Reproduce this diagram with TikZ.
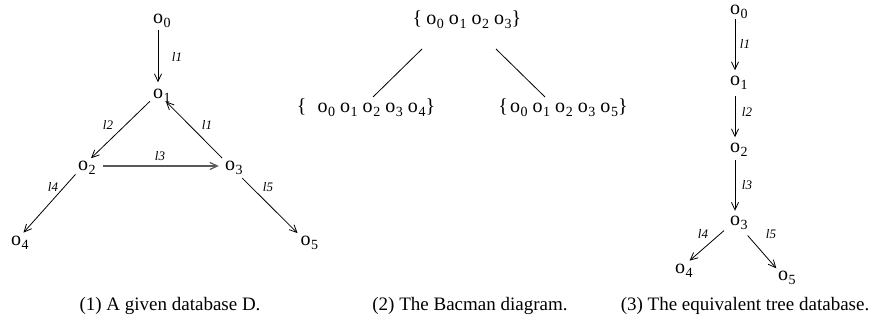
\documentclass[tikz,border=0pt]{standalone}
\usepackage{fontspec}
\setmainfont{Liberation Serif}
\usetikzlibrary{arrows.meta}
\newcommand\fsz[1]{\fontsize{#1}{#1}\selectfont}
\newcommand\osub[1]{o\rlap{\smash{\raisebox{-4pt}{\fsz{14}\hspace{0.6pt}#1}}}}
\newcommand\osw[1]{o\raisebox{-4pt}{\fsz{14}\hspace{0.6pt}#1}}
\begin{document}
\begin{tikzpicture}[x=1pt,y=-1pt,
  obj/.style={circle,inner sep=0pt,minimum size=22pt,font=\fsz{20}},
  objb/.style={obj,minimum size=20pt},
  lab/.style={font=\fsz{13}\itshape,inner sep=0pt},
  captn/.style={font=\fsz{19},anchor=base,inner sep=0pt},
  setn/.style={font=\fsz{20},inner sep=0pt},
  arr/.style={line width=0.8pt,-{Straight Barb[length=7.5pt,width=7pt]}},
  plainline/.style={line width=0.8pt}]
\useasboundingbox (0,0) rectangle (876,323);
% panel 1
\node[obj] (a0) at (158,19) {\osub{0}};
\node[obj] (a1) at (158,93.5) {\osub{1}};
\node[obj] (a2) at (83,166) {\osub{2}};
\node[obj] (a3) at (230,166) {\osub{3}};
\node[obj] (a4) at (16,241) {\osub{4}};
\node[obj] (a5) at (305.5,241) {\osub{5}};
\draw[arr] (a0) -- (a1);
\draw[arr] (a1) -- (a2);
\draw[arr] (a3) -- (a1);
\draw[arr,black!65,line width=1.2pt,shorten <=9pt] (a2) -- (a3);
\draw[arr] (a2) -- (a4);
\draw[arr,shorten <=6pt] (a3) -- (a5);
\node[lab] (la1) at (177,57) {l1};
\node[lab] (la2) at (108,125) {l2};
\node[lab] (la3) at (207,125) {l1};
\node[lab] (la4) at (160,156) {l3};
\node[lab] (la5) at (53,187) {l4};
\node[lab] (la6) at (268,187) {l5};
% panel 2
\node[setn] (T) at (467,20) {\{\hspace{4pt}\osw{0} \osw{1} \osw{2} \osw{3}\}};
\node[setn] (L) at (366,108) {\{\hspace{11pt}\osw{0} \osw{1} \osw{2} \osw{3} \osw{4}\}};
\node[setn] (R) at (563,108) {\{\hspace{2pt}\osw{0} \osw{1} \osw{2} \osw{3} \osw{5}\}};
\coordinate (t1) at (422,49);
\coordinate (b1) at (373,97);
\coordinate (t2) at (496,49);
\coordinate (b2) at (545,97);
\draw[plainline] (t1) -- (b1);
\draw[plainline] (t2) -- (b2);
% panel 3
\node[objb,minimum size=18pt] (p0) at (735,10) {\osub{0}};
\node[objb] (p1) at (735,80.5) {\osub{1}};
\node[objb] (p2) at (735,147.5) {\osub{2}};
\node[objb] (p3) at (735,221) {\osub{3}};
\node[objb] (p4) at (680,269) {\osub{4}};
\node[objb] (p5) at (783,276) {\osub{5}};
\draw[arr] (p0) -- (p1);
\draw[arr,shorten <=5pt] (p1) -- (p2);
\draw[arr,shorten <=2.5pt] (p2) -- (p3);
\draw[arr,shorten <=4.5pt,shorten >=2.5pt] (p3) -- (p4);
\draw[arr,shorten <=9pt] (p3) -- (p5);
\node[lab] (lp1) at (745,43.5) {l1};
\node[lab] (lp2) at (747,112) {l2};
\node[lab] (lp3) at (747,185) {l3};
\node[lab] (lp4) at (703,234) {l4};
\node[lab] (lp5) at (771,234) {l5};
% captions
\node[captn] (c1) at (170,311) {(1) A given database D.};
\node[captn] (c2) at (470,311) {(2) The Bacman diagram.};
\node[captn] (c3) at (745,311) {(3) The equivalent tree database.};
\end{tikzpicture}
\end{document}
